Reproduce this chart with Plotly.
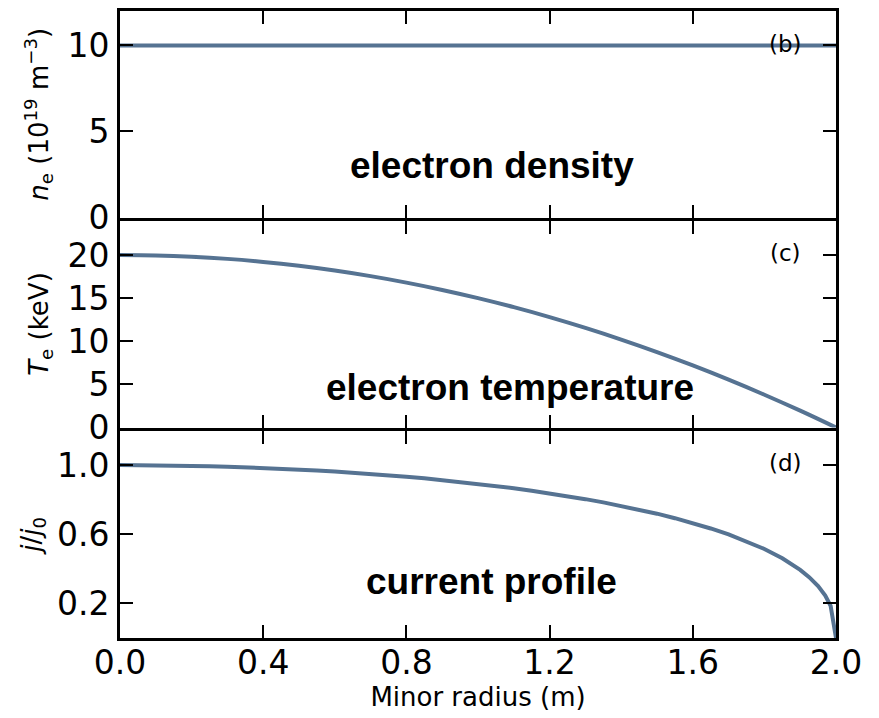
import plotly.graph_objects as go

# ---- data ----
r_te = [0.0, 0.1, 0.2, 0.3, 0.4, 0.5, 0.6, 0.7, 0.8, 0.9, 1.0,
        1.1, 1.2, 1.3, 1.4, 1.5, 1.6, 1.7, 1.8, 1.9, 2.0]
ne_vals = [10.0] * len(r_te)
te_vals = [20.0, 19.95, 19.8, 19.55, 19.2, 18.75, 18.2, 17.55, 16.8, 15.95, 15.0,
           13.95, 12.8, 11.55, 10.2, 8.75, 7.2, 5.55, 3.8, 1.95, 0.0]
r_j = [0.0, 0.05, 0.1, 0.15, 0.2, 0.25, 0.3, 0.35, 0.4, 0.45, 0.5, 0.55, 0.6, 0.65,
       0.7, 0.75, 0.8, 0.85, 0.9, 0.95, 1.0, 1.05, 1.1, 1.15, 1.2, 1.25, 1.3, 1.35,
       1.4, 1.45, 1.5, 1.55, 1.6, 1.65, 1.7, 1.75, 1.8, 1.85, 1.9, 1.925, 1.95,
       1.97, 1.985, 2.0]
j_vals = [1.0, 0.9998, 0.999, 0.9978, 0.996, 0.9937, 0.991, 0.9876, 0.984, 0.9794,
          0.974, 0.9691, 0.963, 0.9563, 0.949, 0.9412, 0.933, 0.9234, 0.913, 0.9028,
          0.891, 0.879, 0.866, 0.8518, 0.837, 0.8203, 0.803, 0.7843, 0.764, 0.742,
          0.719, 0.6929, 0.665, 0.6334, 0.599, 0.5596, 0.515, 0.461, 0.394, 0.352,
          0.300, 0.245, 0.186, 0.0]

x_ticks = [0.0, 0.4, 0.8, 1.2, 1.6, 2.0]
x_ticklabels = ["0.0", "0.4", "0.8", "1.2", "1.6", "2.0"]
ne_ticks = [0, 5, 10]
te_ticks = [0, 5, 10, 15, 20]
j_ticks = [0.2, 0.6, 1.0]
j_ticklabels = ["0.2", "0.6", "1.0"]

panel_labels = ["(b)", "(c)", "(d)"]
big_labels = ["electron density", "electron temperature", "current profile"]

LINE = "rgb(86,115,146)"
TICKFONT = dict(family="DejaVu Sans", size=33, color="black")
TITLEFONT = dict(family="DejaVu Sans", size=26, color="black")

# domains chosen so that the shared spines between panels coincide
H_TOP, H_BOT = 11, 80
PH = 718 - H_TOP - H_BOT
def frac(px):
    return (718 - H_BOT - px) / PH
dom1 = [frac(217.5), 1.0]
dom2 = [frac(427.5), frac(220.5)]
dom3 = [0.0, frac(430.5)]

fig = go.Figure()
fig.add_trace(go.Scatter(x=r_te, y=ne_vals, mode="lines", xaxis="x", yaxis="y",
                         line=dict(color=LINE, width=4), hoverinfo="skip"))
fig.add_trace(go.Scatter(x=r_te, y=te_vals, mode="lines", xaxis="x2", yaxis="y2",
                         line=dict(color=LINE, width=4, shape="spline", smoothing=1.0),
                         hoverinfo="skip"))
fig.add_trace(go.Scatter(x=r_j, y=j_vals, mode="lines", xaxis="x3", yaxis="y3",
                         line=dict(color=LINE, width=4), hoverinfo="skip"))

common_axis = dict(showline=True, linewidth=3, linecolor="black", mirror="allticks",
                   ticks="inside", ticklen=13, tickwidth=1.5, tickcolor="black",
                   showgrid=False, zeroline=False, tickfont=TICKFONT)

xcommon = dict(range=[0, 2], tickvals=x_ticks, ticktext=x_ticklabels, **common_axis)

fig.update_layout(
    xaxis=dict(anchor="y", showticklabels=False, matches="x3", automargin=False, **xcommon),
    xaxis2=dict(anchor="y2", showticklabels=False, matches="x3", automargin=False, **xcommon),
    xaxis3=dict(anchor="y3", showticklabels=True, ticklabelstandoff=-7, automargin=True,
                title=dict(text="Minor radius (m)", font=TITLEFONT, standoff=7), **xcommon),
    yaxis=dict(domain=dom1, anchor="x", range=[0, 12], tickvals=ne_ticks, ticklabelstandoff=1,
               automargin=False,
               title=dict(text="<i>n</i><sub>e</sub> (10<sup>19</sup> m<sup>−3</sup>)",
                          font=TITLEFONT, standoff=12), **common_axis),
    yaxis2=dict(domain=dom2, anchor="x2", range=[0, 24], tickvals=te_ticks, ticklabelstandoff=1,
                automargin=False,
                title=dict(text="<i>T</i><sub>e</sub> (keV)", font=TITLEFONT, standoff=12),
                **common_axis),
    yaxis3=dict(domain=dom3, anchor="x3", range=[0, 1.2], tickvals=j_ticks, ticktext=j_ticklabels,
                ticklabelstandoff=1, automargin=False,
                title=dict(text="<i>j</i>/<i>j</i><sub>0</sub>", font=TITLEFONT, standoff=9),
                **common_axis),
)

# panel labels
label_y = [0.840, 0.843, 0.843]
for i, (lab, yy) in enumerate(zip(panel_labels, label_y)):
    ax = "" if i == 0 else str(i + 1)
    fig.add_annotation(text=lab, xref=f"x{ax} domain", yref=f"y{ax} domain",
                       x=0.930, y=yy, xanchor="center", yanchor="middle",
                       showarrow=False, font=dict(family="DejaVu Sans", size=23, color="black"))

# big bold labels
big_pos = [(0.519, 0.254), (0.545, 0.191), (0.519, 0.270)]
for i, (lab, (xx, yy)) in enumerate(zip(big_labels, big_pos)):
    ax = "" if i == 0 else str(i + 1)
    fig.add_annotation(text=f"<b>{lab}</b>", xref=f"x{ax} domain", yref=f"y{ax} domain",
                       x=xx, y=yy, xanchor="center", yanchor="middle",
                       showarrow=False,
                       font=dict(family="Liberation Sans, Arial", size=37, color="black"))

fig.update_layout(width=879, height=718, margin=dict(l=120, r=43, t=H_TOP, b=H_BOT),
                  paper_bgcolor="white", plot_bgcolor="white", showlegend=False)

fig.write_html("out.html")
